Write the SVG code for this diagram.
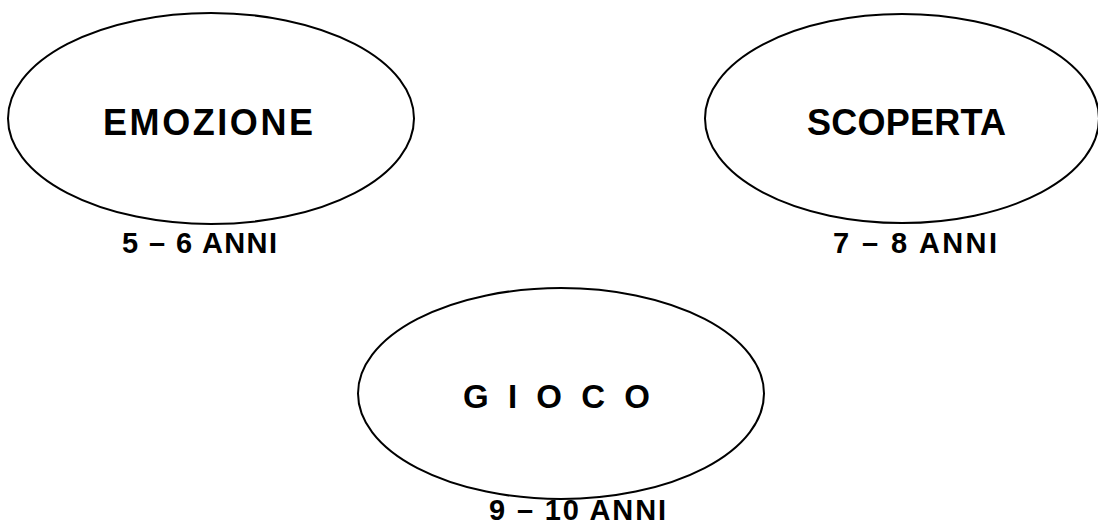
<svg xmlns="http://www.w3.org/2000/svg" width="1098" height="527" viewBox="0 0 1098 527">
<style>
.node ellipse{fill:#fff;stroke:#000;stroke-width:2}
.t{font-family:"Liberation Sans",Arial,sans-serif;font-weight:bold;fill:#000}
.big{font-size:36px}
.lab{font-size:29px}
</style>
<rect width="1098" height="527" fill="#fff"/>
<g id="connectors"></g>
<g id="emozione" class="node">
<ellipse cx="211" cy="118.5" rx="203" ry="105.5"/>
<text class="t big" x="103" y="135" textLength="210" lengthAdjust="spacing">EMOZIONE</text>
<text class="t lab" x="122" y="252.5" textLength="155" lengthAdjust="spacing">5 – 6 ANNI</text>
</g>
<g id="scoperta" class="node">
<ellipse cx="902" cy="118.5" rx="197" ry="104.5"/>
<text class="t big" x="807" y="135" textLength="199" lengthAdjust="spacing">SCOPERTA</text>
<text class="t lab" x="833" y="252.5" textLength="164" lengthAdjust="spacing">7 – 8 ANNI</text>
</g>
<g id="gioco" class="node">
<ellipse cx="561" cy="393.5" rx="203" ry="105.5"/>
<text class="t" style="font-size:33px" x="463" y="407.5" textLength="187" lengthAdjust="spacing">G I O C O</text>
<text class="t lab" x="489" y="520" textLength="177" lengthAdjust="spacing">9 – 10 ANNI</text>
</g>
</svg>
